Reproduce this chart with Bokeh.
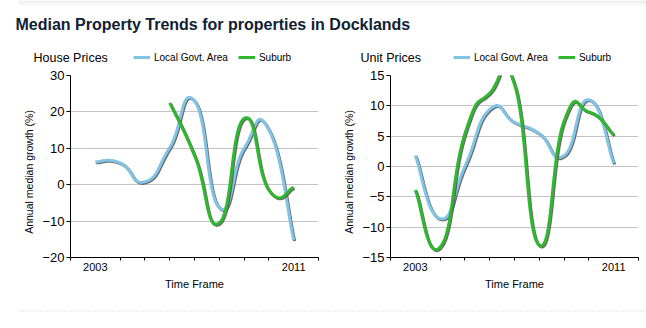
import numpy as np
from bokeh.plotting import figure
from bokeh.layouts import column, row
from bokeh.models import FixedTicker, Legend, LegendItem, Range1d
from bokeh.embed import file_html
from bokeh.resources import INLINE
from bokeh.core.properties import value

# ---------------- data ----------------
title_text = "Median Property Trends for properties in Docklands"
panel_titles = ["House Prices", "Unit Prices"]
series_names = ["Local Govt. Area", "Suburb"]
y_title = "Annual median growth (%)"
x_title = "Time Frame"
years = [2003, 2004, 2005, 2006, 2007, 2008, 2009, 2010, 2011]
house_lga = [6.3, 6.0, 0.8, 10.2, 23.0, -6.3, 10.0, 15.0, -15.2]
house_suburb_years = [2006, 2007, 2008, 2009, 2010, 2011]
house_suburb = [22.5, 8.0, -10.5, 18.2, -1.5, -0.8]
unit_lga = [1.8, -8.6, 0.0, 9.4, 7.3, 5.4, 1.8, 11.0, 0.5]
unit_suburb = [-3.9, -13.3, 5.4, 12.1, 13.5, -13.0, 7.5, 9.0, 5.2]
house_yticks = [-20, -10, 0, 10, 20, 30]
unit_yticks = [-15, -10, -5, 0, 5, 10, 15]
x_labels = {2003: "2003", 2011: "2011"}
minor_years = [2002, 2004, 2005, 2006, 2007, 2008, 2009, 2010, 2012]

FONT = "Liberation Sans"
BLUE = "#82c4e6"
GREEN = "#2fb82f"
SHADOW = "#505050"
HEADER_H = 68
ROW_H = 302 - HEADER_H
LABEL_W = 36


def cardinal(xs, ys, tension=0.8, n=30):
    """Smooth spline drawn through the data points (chart 'Spline' style)."""
    P = np.column_stack([xs, ys]).astype(float)
    m = len(P)
    segs = []
    for i in range(m - 1):
        p0, p3 = P[i], P[i + 1]
        prev = P[i - 1] if i > 0 else P[i]
        nxt = P[i + 2] if i + 2 < m else P[i + 1]
        c1 = p0 + tension / 3.0 * (p3 - prev)
        c2 = p3 - tension / 3.0 * (nxt - p0)
        t = np.linspace(0, 1, n)[:, None]
        b = ((1 - t) ** 3) * p0 + 3 * ((1 - t) ** 2) * t * c1 + 3 * (1 - t) * (t ** 2) * c2 + (t ** 3) * p3
        segs.append(b if i == m - 2 else b[:-1])
    S = np.vstack(segs)
    return S[:, 0], S[:, 1]


def blank(width, height):
    f = figure(width=width, height=height, output_backend="svg", toolbar_location=None,
               x_range=Range1d(0, width), y_range=Range1d(height, 0), min_border=0, tools="")
    f.axis.visible = False
    f.grid.visible = False
    f.outline_line_color = None
    return f


def y_label_panel():
    f = blank(LABEL_W, ROW_H)
    f.text(x=[28], y=[192 - HEADER_H], text=[y_title], angle=np.pi / 2,
           text_align="center", text_baseline="middle", text_font=value(FONT),
           text_font_size="10.5px", text_color="black")
    return f


def make_panel(ylo, yhi, yticks, series, width, border_left, border_right):
    p = figure(width=width, height=ROW_H, output_backend="svg", toolbar_location=None,
               x_range=Range1d(2002, 2012), y_range=Range1d(ylo, yhi),
               min_border_left=border_left, min_border_right=border_right,
               min_border_top=75 - HEADER_H, min_border_bottom=45, tools="")
    p.outline_line_color = None
    p.background_fill_color = "white"
    p.border_fill_color = "white"

    p.xgrid.visible = False
    p.ygrid.ticker = FixedTicker(ticks=yticks)
    p.ygrid.grid_line_color = "#c4c4c4"
    p.ygrid.grid_line_width = 1

    ax = p.yaxis[0]
    ax.ticker = FixedTicker(ticks=yticks)
    ax.major_tick_out = 4
    ax.major_tick_in = 0
    ax.minor_tick_out = 0
    ax.minor_tick_in = 0
    ax.major_label_standoff = 2
    ax.major_label_text_font = FONT
    ax.major_label_text_font_size = "13px"
    ax.major_label_text_color = "black"
    ax.axis_line_color = "black"
    ax.major_tick_line_color = "black"

    bx = p.xaxis[0]
    bx.ticker = FixedTicker(ticks=list(x_labels.keys()), minor_ticks=minor_years)
    bx.major_label_overrides = x_labels
    bx.major_tick_out = 0
    bx.major_tick_in = 0
    bx.minor_tick_out = 3
    bx.minor_tick_in = 0
    bx.minor_tick_line_color = "black"
    bx.major_label_standoff = 2
    bx.major_label_text_font = FONT
    bx.major_label_text_font_size = "11px"
    bx.major_label_text_color = "black"
    bx.axis_line_color = "black"
    bx.axis_label = x_title
    bx.axis_label_text_font = FONT
    bx.axis_label_text_font_size = "11px"
    bx.axis_label_text_font_style = "normal"
    bx.axis_label_text_color = "black"
    bx.axis_label_standoff = 4

    dx = 10.0 / 248.0
    dy = (yhi - ylo) / 182.0
    for xs, ys, color in series:
        sx, sy = cardinal(xs, ys)
        p.line(sx + dx, sy - dy, line_color=SHADOW, line_width=3, line_alpha=0.85)
        p.line(sx, sy, line_color=color, line_width=3)
    return p


p1 = make_panel(-20, 30, house_yticks,
                [(years, house_lga, BLUE), (house_suburb_years, house_suburb, GREEN)],
                320 - LABEL_W, 70 - LABEL_W, 2)
p2 = make_panel(-15, 15, unit_yticks,
                [(years, unit_lga, BLUE), (years, unit_suburb, GREEN)],
                326 - LABEL_W, 70 - LABEL_W, 8)

# ---------------- header: main title, panel titles and legends ----------------
h = blank(646, HEADER_H)
band_cols = ["#e6e6e6", "#ebebeb", "#f0f0f0", "#f4f4f4", "#f8f8f8", "#fcfcfc"]
h.quad(left=[18] * 6, right=[646] * 6, top=list(range(6)), bottom=list(range(1, 7)),
       fill_color=band_cols, line_color=None)
h.text(x=[15], y=[24], text=[title_text], text_baseline="alphabetic", text_align="left",
       text_font=value(FONT), text_font_style="bold",
       text_font_size="16px", text_color="#0f2133")
h.text(x=[33, 360], y=[57, 57], text=panel_titles, text_baseline="middle", text_align="left",
       text_font=value(FONT), text_font_size="12.5px", text_color="black")

for lx in (133, 453):
    # legend-only renderers, placed outside the header's visible range
    r_blue = h.line(x=[-50, -40], y=[-50, -50], line_color=BLUE, line_width=3)
    r_green = h.line(x=[-50, -40], y=[-50, -50], line_color=GREEN, line_width=3)
    leg = Legend(items=[LegendItem(label=series_names[0], renderers=[r_blue]),
                        LegendItem(label=series_names[1], renderers=[r_green])],
                 location=(lx, HEADER_H - 63), orientation="horizontal",
                 label_text_font=FONT, label_text_font_size="10px",
                 label_text_color="black", glyph_width=17, glyph_height=12,
                 label_standoff=4, spacing=10, padding=0, margin=0,
                 background_fill_alpha=0, border_line_alpha=0, label_height=12)
    h.add_layout(leg)

# ---------------- footer: dotted separator ----------------
f = blank(646, 26)
f.line(x=[19, 646], y=[8.5, 8.5], line_color="#c8c8c8", line_dash="1 2", line_width=1)

layout = column(h, row(y_label_panel(), p1, y_label_panel(), p2), f)
open("out.html", "w").write(file_html(layout, INLINE))
